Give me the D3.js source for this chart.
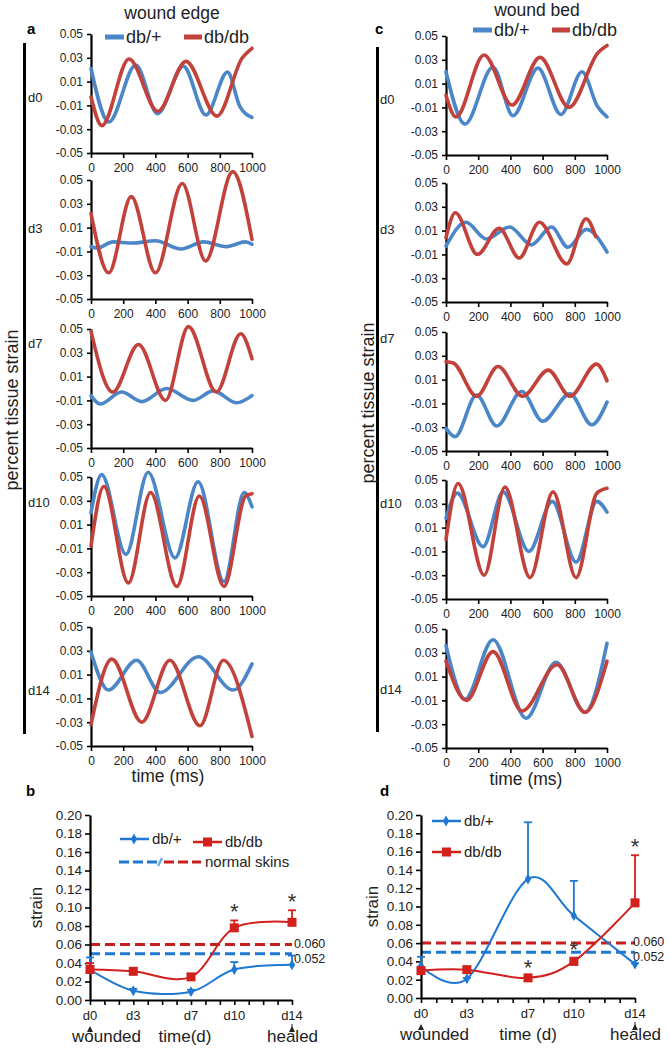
<!DOCTYPE html>
<html><head><meta charset="utf-8">
<script src="https://cdn.jsdelivr.net/npm/d3@7"></script>
<style>
body{margin:0;background:#fff;}
svg{display:block;font-family:"Liberation Sans",Arial,Helvetica,sans-serif;}
</style></head><body>
<svg id="fig" width="669" height="1049"></svg>
<script>
// ---------------- DATA ----------------
const timeTicks = [0, 200, 400, 600, 800, 1000];
const timeTickLabels = ["0", "200", "400", "600", "800", "1000"];
const strainTicks = [0.05, 0.03, 0.01, -0.01, -0.03, -0.05];
const strainTickLabels = ["0.05", "0.03", "0.01", "-0.01", "-0.03", "-0.05"];
const dayRows = ["d0", "d3", "d7", "d10", "d14"];
const seriesNames = ["db/+", "db/db"];

// wound edge (a): [time ms, strain] read at turning points
const edgeHet_d0 = [[0,0.021],[111,-0.024],[278,0.024],[413,-0.017],[573,0.023],[714,-0.018],[848,0.018],[925,-0.011],[1000,-0.020]];
const edgeDb_d0  = [[0,-0.003],[68,-0.027],[236,0.029],[415,-0.015],[590,0.027],[782,-0.019],[940,0.030],[1000,0.038]];
const edgeHet_d3 = [[0,-0.006],[40,-0.007],[137,-0.002],[260,-0.003],[400,-0.001],[560,-0.008],[700,-0.002],[840,-0.006],[960,-0.002],[1000,-0.004]];
const edgeDb_d3  = [[0,0.022],[110,-0.028],[250,0.036],[400,-0.028],[567,0.047],[712,-0.018],[880,0.057],[1000,0.000]];
const edgeHet_d7 = [[0,-0.006],[56,-0.013],[190,-0.003],[315,-0.011],[470,0.000],[635,-0.010],[760,-0.002],[905,-0.012],[1000,-0.006]];
const edgeDb_d7  = [[0,0.048],[135,-0.003],[295,0.037],[463,-0.010],[605,0.052],[778,-0.003],[930,0.046],[1000,0.025]];
const edgeHet_d10 = [[0,0.020],[66,0.052],[217,-0.015],[355,0.054],[522,-0.018],[665,0.046],[826,-0.038],[951,0.037],[1000,0.025]];
const edgeDb_d10  = [[0,-0.008],[80,0.042],[232,-0.039],[370,0.037],[533,-0.042],[673,0.034],[826,-0.042],[960,0.034],[1000,0.036]];
const edgeHet_d14 = [[0,0.029],[108,-0.003],[283,0.022],[430,-0.005],[667,0.025],[883,-0.003],[1000,0.019]];
const edgeDb_d14  = [[0,-0.032],[130,0.023],[315,-0.030],[490,0.022],[677,-0.033],[822,0.022],[1000,-0.042]];

// wound bed (c)
const bedHet_d0 = [[0,0.020],[118,-0.024],[292,0.024],[416,-0.017],[571,0.023],[714,-0.016],[845,0.020],[940,-0.009],[1000,-0.018]];
const bedDb_d0  = [[0,0.000],[62,-0.018],[236,0.034],[410,-0.008],[584,0.032],[764,-0.010],[944,0.036],[1000,0.042]];
const bedHet_d3 = [[0,-0.003],[124,0.017],[250,0.003],[395,0.013],[530,-0.002],[655,0.013],[757,-0.004],[872,0.011],[1000,-0.008]];
const bedDb_d3  = [[0,0.004],[58,0.025],[195,-0.010],[330,0.012],[455,-0.013],[580,0.017],[750,-0.018],[870,0.020],[930,0.005]];
const bedHet_d7 = [[0,-0.031],[56,-0.038],[190,-0.003],[315,-0.029],[470,0.000],[600,-0.025],[770,-0.002],[905,-0.028],[1000,-0.009]];
const bedDb_d7  = [[0,0.025],[45,0.024],[190,-0.004],[323,0.021],[476,-0.004],[635,0.018],[770,-0.004],[935,0.023],[1000,0.009]];
const bedHet_d10 = [[0,0.018],[70,0.039],[230,-0.006],[355,0.040],[515,-0.010],[660,0.032],[808,-0.019],[937,0.032],[1000,0.023]];
const bedDb_d10  = [[0,0.000],[75,0.047],[237,-0.030],[366,0.044],[522,-0.032],[665,0.040],[808,-0.032],[937,0.039],[1000,0.043]];
const bedHet_d14 = [[0,0.036],[118,-0.009],[292,0.041],[497,-0.025],[683,0.022],[863,-0.020],[1000,0.038]];
const bedDb_d14  = [[0,0.023],[128,-0.010],[292,0.031],[472,-0.019],[690,0.020],[863,-0.020],[1000,0.023]];

// summary (b, d)
const days = [0, 3, 7, 10, 14];
const dayTickValues = [0,1,2,3,4,5,6,7,8,9,10,11,12,13,14];
const dayLabels = ["d0", "d3", "d7", "d10", "d14"];
const summaryTicks = [0,0.02,0.04,0.06,0.08,0.10,0.12,0.14,0.16,0.18,0.20];
const summaryTickLabels = ["0.00","0.02","0.04","0.06","0.08","0.10","0.12","0.14","0.16","0.18","0.20"];
const edgeHetStrain = [0.033, 0.010, 0.009, 0.033, 0.038];
const edgeHetErrTop = [0.046, 0.012, 0.011, 0.041, 0.048];
const edgeDbStrain  = [0.033, 0.031, 0.025, 0.078, 0.084];
const edgeDbErrTop  = [0.040, 0.033, 0.027, 0.086, 0.097];
const edgeSigDays   = [10, 14];
const bedHetStrain  = [0.035, 0.021, 0.130, 0.090, 0.037];
const bedHetErrTop  = [0.045, 0.022, 0.192, 0.128, 0.038];
const bedDbStrain   = [0.030, 0.031, 0.022, 0.040, 0.104];
const bedDbErrTop   = [0.033, 0.033, 0.024, 0.044, 0.156];
const bedSigDays    = [7, 10, 14];
const normalSkin    = [0.060, 0.050];
const normalSkinLabels = ["0.060", "0.052"];

// ---------------- STYLE / LAYOUT ----------------
const BLUE = "#4a86c8", RED = "#c2413b";
const BLUE2 = "#1f78d1", RED2 = "#d2201c";
const svg = d3.select("#fig");

function styleAxis(g, fs, fill) {
  g.select(".domain").attr("stroke", "#000").attr("stroke-width", 2.2);
  g.selectAll(".tick line").attr("stroke", "#000").attr("stroke-width", 1.6);
  g.selectAll(".tick text").attr("font-size", fs).attr("fill", fill || "#222")
    .attr("font-family", '"Liberation Sans",Arial,sans-serif');
}

function wavePanel(cfg, het, db, label, labelX, labelY) {
  const x = d3.scaleLinear([0, 1000], [cfg.x0, cfg.x1]);
  const y = d3.scaleLinear([-0.05, 0.05], [cfg.top + cfg.h, cfg.top]);
  const g = svg.append("g");
  const ya = d3.axisLeft(y).tickValues(strainTicks)
    .tickFormat((d, i) => strainTickLabels[i]).tickSize(4).tickSizeOuter(0).tickPadding(4);
  const yg = g.append("g").attr("transform", `translate(${cfg.x0},0)`).call(ya);
  styleAxis(yg, 12);
  const xa = d3.axisBottom(x).tickValues(timeTicks).tickFormat((d, i) => timeTickLabels[i])
    .tickSize(5).tickSizeOuter(0).tickPadding(5);
  const xg = g.append("g").attr("transform", `translate(0,${cfg.top + cfg.h})`).call(xa);
  styleAxis(xg, 12);
  const line = d3.line().x(d => x(d[0])).y(d => y(d[1])).curve(d3.curveMonotoneX);
  g.append("path").datum(het).attr("d", line).attr("fill", "none")
    .attr("stroke", BLUE).attr("stroke-width", 3.6).attr("stroke-linecap", "round").attr("stroke-linejoin", "round");
  g.append("path").datum(db).attr("d", line).attr("fill", "none")
    .attr("stroke", RED).attr("stroke-width", 3.6).attr("stroke-linecap", "round").attr("stroke-linejoin", "round");
  g.append("text").attr("x", labelX).attr("y", labelY).attr("font-size", 13).attr("fill", "#222").text(label);
}

const leftCol  = { x0: 91,  x1: 252, h: 119, tops: [34, 180, 329, 477, 627], labelX: 28,  labelY: [102, 233, 348, 507, 695] };
const rightCol = { x0: 446, x1: 607, h: 119, tops: [36, 183, 332, 480, 629], labelX: 380, labelY: [104, 234, 343, 508, 694] };
const edgeSets = [[edgeHet_d0, edgeDb_d0], [edgeHet_d3, edgeDb_d3], [edgeHet_d7, edgeDb_d7], [edgeHet_d10, edgeDb_d10], [edgeHet_d14, edgeDb_d14]];
const bedSets  = [[bedHet_d0, bedDb_d0], [bedHet_d3, bedDb_d3], [bedHet_d7, bedDb_d7], [bedHet_d10, bedDb_d10], [bedHet_d14, bedDb_d14]];

edgeSets.forEach((s, i) => wavePanel({ x0: leftCol.x0, x1: leftCol.x1, h: leftCol.h, top: leftCol.tops[i] }, s[0], s[1], dayRows[i], leftCol.labelX, leftCol.labelY[i]));
bedSets.forEach((s, i) => wavePanel({ x0: rightCol.x0, x1: rightCol.x1, h: rightCol.h, top: rightCol.tops[i] }, s[0], s[1], dayRows[i], rightCol.labelX, rightCol.labelY[i]));

// brackets and side labels
svg.append("rect").attr("x", 23).attr("y", 43).attr("width", 3).attr("height", 691).attr("fill", "#000");
svg.append("rect").attr("x", 376).attr("y", 47).attr("width", 3).attr("height", 685).attr("fill", "#000");
svg.append("text").attr("transform", "translate(18,410) rotate(-90)").attr("text-anchor", "middle")
  .attr("font-size", 18).attr("fill", "#222").text("percent tissue strain");
svg.append("text").attr("transform", "translate(374,403) rotate(-90)").attr("text-anchor", "middle")
  .attr("font-size", 18).attr("fill", "#222").text("percent tissue strain");

// titles and panel letters
svg.append("text").attr("x", 172).attr("y", 19).attr("text-anchor", "middle").attr("font-size", 17.5).attr("fill", "#222").text("wound edge");
svg.append("text").attr("x", 537).attr("y", 16).attr("text-anchor", "middle").attr("font-size", 17.5).attr("fill", "#222").text("wound bed");
[["a", 27, 34], ["c", 375, 34], ["b", 26, 796], ["d", 380, 796]].forEach(l =>
  svg.append("text").attr("x", l[1]).attr("y", l[2]).attr("font-size", 15).attr("font-weight", "bold").text(l[0]));
svg.append("text").attr("x", 168).attr("y", 782).attr("text-anchor", "middle").attr("font-size", 17.5).attr("fill", "#222").text("time (ms)");
svg.append("text").attr("x", 526).attr("y", 785).attr("text-anchor", "middle").attr("font-size", 17.5).attr("fill", "#222").text("time (ms)");

// top legends
function topLegend(x, y) {
  svg.append("line").attr("x1", x).attr("x2", x + 19).attr("y1", y).attr("y2", y).attr("stroke", BLUE).attr("stroke-width", 5);
  svg.append("text").attr("x", x + 21).attr("y", y + 6).attr("font-size", 18).attr("fill", "#222").text(seriesNames[0]);
  svg.append("line").attr("x1", x + 79).attr("x2", x + 97).attr("y1", y).attr("y2", y).attr("stroke", RED).attr("stroke-width", 5);
  svg.append("text").attr("x", x + 99).attr("y", y + 6).attr("font-size", 18).attr("fill", "#222").text(seriesNames[1]);
}
topLegend(105, 37);
topLegend(473, 30);

// ---------------- SUMMARY PANELS ----------------
function summaryPanel(cfg) {
  const x = d3.scaleLinear([0, 14], [cfg.x0, cfg.x1]);
  const y = d3.scaleLinear([0, 0.20], [cfg.yb, cfg.yt]);
  const g = svg.append("g");
  normalSkin.forEach((v, i) => {
    g.append("line").attr("x1", x(0)).attr("x2", x(14)).attr("y1", y(v)).attr("y2", y(v))
      .attr("stroke", i === 0 ? "#c81e1e" : BLUE2).attr("stroke-width", 3).attr("stroke-dasharray", "10,5");
    g.append("text").attr("x", x(14) + cfg.lblDx).attr("y", y(v) + (i === 0 ? 3 : 9)).attr("font-size", 12.5).attr("fill", "#222").text(normalSkinLabels[i]);
  });
  const ya = d3.axisLeft(y).tickValues(summaryTicks).tickFormat((d, i) => summaryTickLabels[i]).tickSize(5).tickSizeOuter(0).tickPadding(3);
  const yg = g.append("g").attr("transform", `translate(${cfg.x0},0)`).call(ya);
  styleAxis(yg, 13.5);
  const xa = d3.axisBottom(x).tickValues(dayTickValues).tickSize(5).tickSizeOuter(0).tickFormat(() => "");
  const xg = g.append("g").attr("transform", `translate(0,${cfg.yb})`).call(xa);
  styleAxis(xg, 13);
  days.forEach((d, i) => g.append("text").attr("x", x(d)).attr("y", cfg.yb + 20).attr("text-anchor", "middle")
    .attr("font-size", 13).attr("fill", "#222").text(dayLabels[i]));
  const line = d3.line().x((d, i) => x(days[i])).y(d => y(d)).curve(d3.curveCardinal.tension(0));
  [[cfg.het, cfg.hetErr, BLUE2], [cfg.db, cfg.dbErr, RED2]].forEach(([vals, errs, col], k) => {
    vals.forEach((v, i) => {
      g.append("line").attr("x1", x(days[i])).attr("x2", x(days[i])).attr("y1", y(v)).attr("y2", y(errs[i])).attr("stroke", col).attr("stroke-width", 1.8);
      g.append("line").attr("x1", x(days[i]) - 4).attr("x2", x(days[i]) + 4).attr("y1", y(errs[i])).attr("y2", y(errs[i])).attr("stroke", col).attr("stroke-width", 1.8);
    });
    g.append("path").datum(vals).attr("d", line).attr("fill", "none").attr("stroke", col).attr("stroke-width", 2);
    vals.forEach((v, i) => {
      if (k === 0) {
        g.append("path").attr("d", d3.symbol(d3.symbolDiamond, 34)()).attr("transform", `translate(${x(days[i])},${y(v)})`).attr("fill", col);
      } else {
        g.append("rect").attr("x", x(days[i]) - 4.5).attr("y", y(v) - 4.5).attr("width", 9).attr("height", 9).attr("fill", col);
      }
    });
  });
  cfg.sig.forEach(d => {
    const i = days.indexOf(d);
    const top = Math.max(cfg.dbErr[i], cfg.db[i]);
    g.append("text").attr("x", x(d)).attr("y", y(top) - 1).attr("text-anchor", "middle").attr("font-size", 22).attr("fill", "#333").text("*");
  });
  [0, 14].forEach(d => {
    g.append("path").attr("d", `M${x(d) - 3},${cfg.yb + 32} L${x(d) + 3},${cfg.yb + 32} L${x(d)},${cfg.yb + 26} Z`).attr("fill", "#222");
  });
  g.append("line").attr("x1", x(14)).attr("x2", x(14)).attr("y1", cfg.yb + 24).attr("y2", cfg.yb + 30).attr("stroke", "#222").attr("stroke-width", 1);
  g.append("text").attr("x", cfg.woundedX).attr("y", cfg.yb + 42).attr("font-size", 17).attr("fill", "#222").text("wounded");
  g.append("text").attr("x", cfg.timeX).attr("y", cfg.yb + 42).attr("text-anchor", "middle").attr("font-size", 17).attr("fill", "#222").text(cfg.timeLabel);
  g.append("text").attr("x", cfg.healedX).attr("y", cfg.yb + 42).attr("font-size", 17).attr("fill", "#222").text("healed");
  g.append("text").attr("transform", `translate(${cfg.strainX},${(cfg.yt + cfg.yb) / 2}) rotate(-90)`).attr("text-anchor", "middle")
    .attr("font-size", 17).attr("fill", "#222").text("strain");
}

summaryPanel({ x0: 90, x1: 292, yt: 815, yb: 1000, lblDx: 2, het: edgeHetStrain, hetErr: edgeHetErrTop, db: edgeDbStrain, dbErr: edgeDbErrTop,
  sig: edgeSigDays, woundedX: 72, timeX: 185, timeLabel: "time(d)", healedX: 267, strainX: 42 });
summaryPanel({ x0: 421, x1: 635, yt: 815, yb: 998, lblDx: -2, het: bedHetStrain, hetErr: bedHetErrTop, db: bedDbStrain, dbErr: bedDbErrTop,
  sig: bedSigDays, woundedX: 400, timeX: 528, timeLabel: "time (d)", healedX: 610, strainX: 378 });

function lineLegend(x, y, col, marker, label) {
  svg.append("line").attr("x1", x).attr("x2", x + 29).attr("y1", y).attr("y2", y).attr("stroke", col).attr("stroke-width", 2.5);
  if (marker === "d") svg.append("path").attr("d", d3.symbol(d3.symbolDiamond, 34)()).attr("transform", `translate(${x + 14},${y})`).attr("fill", col);
  else svg.append("rect").attr("x", x + 10).attr("y", y - 4.5).attr("width", 9).attr("height", 9).attr("fill", col);
  svg.append("text").attr("x", x + 32).attr("y", y + 5).attr("font-size", 15).attr("fill", "#222").text(label);
}
lineLegend(120, 839, BLUE2, "d", seriesNames[0]);
lineLegend(193, 842, RED2, "s", seriesNames[1]);
svg.append("line").attr("x1", 119).attr("x2", 157).attr("y1", 862).attr("y2", 862).attr("stroke", BLUE2).attr("stroke-width", 3).attr("stroke-dasharray", "10,4");
svg.append("line").attr("x1", 158).attr("x2", 162).attr("y1", 866).attr("y2", 858).attr("stroke", "#6aaee0").attr("stroke-width", 2.5);
svg.append("line").attr("x1", 164).attr("x2", 201).attr("y1", 862).attr("y2", 862).attr("stroke", "#c81e1e").attr("stroke-width", 3).attr("stroke-dasharray", "10,4");
svg.append("text").attr("x", 205).attr("y", 867).attr("font-size", 15).attr("fill", "#222").text("normal skins");
lineLegend(432, 821, BLUE2, "d", seriesNames[0]);
lineLegend(432, 852, RED2, "s", seriesNames[1]);
</script>
</body></html>
